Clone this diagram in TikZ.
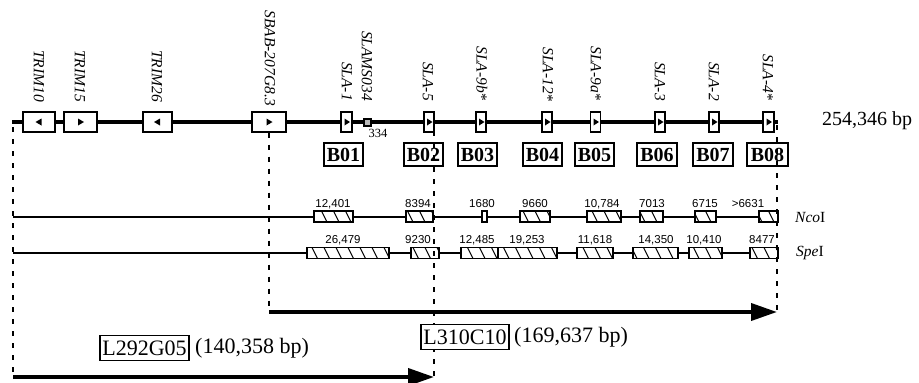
\documentclass[tikz,border=0pt]{standalone}
\usepackage{fontspec}
\setmainfont{Liberation Serif}
\newfontfamily\numfont{Liberation Sans}
\usetikzlibrary{arrows.meta}
\begin{document}
\begin{tikzpicture}[x=1pt,y=-1pt,
  mainline/.style={line width=3.8pt},
  rline/.style={line width=1.6pt},
  genebox/.style={draw, fill=white, line width=1.2pt, minimum width=#1, minimum height=20pt, inner sep=0pt},
  genelbl/.style={font=\fontsize{15.5}{15.5}\selectfont\itshape, rotate=-90, anchor=east, inner sep=0pt},
  bbox/.style={draw, line width=1.7pt, minimum width=#1, minimum height=23pt, inner sep=0pt, font=\fontsize{20}{20}\selectfont\bfseries},
  lbox/.style={draw, fill=white, line width=1.5pt, minimum width=#1, minimum height=25pt, inner sep=0pt, font=\fontsize{22}{22}\selectfont},
  btxt/.style={font=\fontsize{22}{22}\selectfont, inner sep=0pt, anchor=west},
  hatchbox/.style={draw, fill=white, line width=1.2pt, minimum width=#1, minimum height=11pt, inner sep=0pt,
    path picture={\foreach \k in {-132,-120,...,132} \draw[line width=1pt] ([xshift=\k pt]path picture bounding box.north) -- ++(6,12);}},
  plainbox/.style={draw, fill=white, line width=1.2pt, minimum width=#1, minimum height=11pt, inner sep=0pt},
  num/.style={font=\numfont\fontsize{11.5}{11.5}\selectfont, inner sep=0pt},
  enzyme/.style={font=\fontsize{15.5}{15.5}\selectfont, inner sep=0pt, anchor=west},
  dline/.style={line width=1.8pt, dash pattern=on 5pt off 7pt},
  bigarrow/.style={line width=3.8pt, -{Triangle[length=26pt,width=17pt]}},
  tri/.style={fill=black}
]
\useasboundingbox (0,0) rectangle (919,383);

% main line
\coordinate (ms) at (12,122);
\coordinate (me) at (778,122);
\draw[mainline] (ms) -- (me);

% gene boxes
\node[genebox=32] (trim10) at (39,122) {};
\node[genebox=33] (trim15) at (80.5,122) {};
\node[genebox=29] (trim26) at (157.5,122) {};
\node[genebox=34] (sbab) at (269,122) {};
\node[genebox=11] (sla1) at (346.5,122) {};
\node[draw, fill=gray!55, line width=1.1pt, minimum size=7pt, inner sep=0pt] (slams) at (367.5,122.5) {};
\node[genebox=10] (sla5) at (429,122) {};
\node[genebox=10] (sla9b) at (481,122) {};
\node[genebox=10] (sla12) at (547,122) {};
\node[genebox=10] (sla9a) at (595.5,122) {};
\node[genebox=10] (sla3) at (660,122) {};
\node[genebox=10] (sla2) at (714,122) {};
\node[genebox=11] (sla4) at (768.5,122) {};

% direction triangles
\foreach \g in {trim15,sbab}
  \fill[tri, shift={(\g.center)}] (-2.5,-3.5) -- (3.5,0) -- (-2.5,3.5) -- cycle;
\foreach \g in {trim10,trim26}
  \fill[tri, shift={(\g.center)}] (2.5,-3.5) -- (-3.5,0) -- (2.5,3.5) -- cycle;
\foreach \g in {sla1,sla5,sla9b,sla12,sla9a,sla3,sla2,sla4}
  \fill[tri, shift={(\g.center)}] (-2,-3.5) -- (3.5,0) -- (-2,3.5) -- cycle;

% gene labels
\node[genelbl] (ltrim10) at (39,102) {TRIM10};
\node[genelbl] (ltrim15) at (80,102) {TRIM15};
\node[genelbl] (ltrim26) at (157,102) {TRIM26};
\node[genelbl] (lsbab) at (270,106) {SBAB-207G8.3};
\node[genelbl] (lsla1) at (347,101) {SLA-1};
\node[genelbl] (lslams) at (367,101) {SLAMS034};
\node[genelbl] (lsla5) at (428,101) {SLA-5};
\node[genelbl] (lsla9b) at (482,101) {SLA-9b\upshape*};
\node[genelbl] (lsla12) at (548,102) {SLA-12\upshape*};
\node[genelbl] (lsla9a) at (596,101) {SLA-9a\upshape*};
\node[genelbl] (lsla3) at (660,101) {SLA-3};
\node[genelbl] (lsla2) at (714,101) {SLA-2};
\node[genelbl] (lsla4) at (768,101) {SLA-4\upshape*};

\node[font=\fontsize{12.5}{12.5}\selectfont, inner sep=0pt] (n334) at (378,133) {334};
\node[font=\fontsize{20}{20}\selectfont, inner sep=0pt, anchor=west] (total) at (822,121) {254,346 bp};

% B boxes
\node[bbox=39] (b01) at (343.5,154.5) {B01};
\node[bbox=39] (b02) at (423.5,154.5) {B02};
\node[bbox=39] (b03) at (477.5,154.5) {B03};
\node[bbox=39] (b04) at (542.5,154.5) {B04};
\node[bbox=39] (b05) at (594.5,154.5) {B05};
\node[bbox=40] (b06) at (657,154.5) {B06};
\node[bbox=40] (b07) at (713,154.5) {B07};
\node[bbox=41] (b08) at (767.5,154.5) {B08};

% NcoI map
\coordinate (ncs) at (13,217);
\coordinate (nce) at (778,217);
\draw[rline] (ncs) -- (nce);
\node[hatchbox=39] (nc1) at (333.5,216.5) {};
\node[hatchbox=27] (nc2) at (419.5,216.5) {};
\node[plainbox=5] (nc3) at (484.5,216.5) {};
\node[hatchbox=30] (nc4) at (535,216.5) {};
\node[hatchbox=34] (nc5) at (604,216.5) {};
\node[hatchbox=23] (nc6) at (651.5,216.5) {};
\node[hatchbox=21] (nc7) at (705.5,216.5) {};
\node[hatchbox=19] (nc8) at (768.5,216.5) {};
\node[num] (lnc1) at (333,204) {12,401};
\node[num] (lnc2) at (418,204) {8394};
\node[num] (lnc3) at (482,204) {1680};
\node[num] (lnc4) at (535,204) {9660};
\node[num] (lnc5) at (602,204) {10,784};
\node[num] (lnc6) at (652,204) {7013};
\node[num] (lnc7) at (705,204) {6715};
\node[num] (lnc8) at (748,204) {>6631};
\node[enzyme] (nco) at (795,217) {\itshape Nco\upshape I};

% SpeI map
\coordinate (sps) at (13,253);
\coordinate (spe) at (778,253);
\draw[rline] (sps) -- (spe);
\node[hatchbox=82] (sp1) at (348,253) {};
\node[hatchbox=28] (sp2) at (425,253) {};
\node[hatchbox=37] (sp3) at (479.5,253) {};
\node[hatchbox=59] (sp4) at (527.5,253) {};
\node[hatchbox=36] (sp5) at (595,253) {};
\node[hatchbox=45] (sp6) at (655.5,253) {};
\node[hatchbox=33] (sp7) at (705.5,253) {};
\node[hatchbox=28] (sp8) at (764,253) {};
\node[num] (lsp1) at (343,240) {26,479};
\node[num] (lsp2) at (418,240) {9230};
\node[num] (lsp3) at (477,240) {12,485};
\node[num] (lsp4) at (527,240) {19,253};
\node[num] (lsp5) at (595,240) {11,618};
\node[num] (lsp6) at (656,240) {14,350};
\node[num] (lsp7) at (704,240) {10,410};
\node[num] (lsp8) at (762,240) {8477};
\node[enzyme] (spe1) at (796,253) {\itshape Spe\upshape I};

% BAC arrows
\coordinate (a1s) at (269,312);
\coordinate (a1e) at (777,312);
\coordinate (a2s) at (13,377);
\coordinate (a2e) at (434,377);

% dashed boundaries
\coordinate (d1t) at (13,127);
\coordinate (d3t) at (434,131);
\coordinate (d4t) at (777,125);
\draw[dline] (d1t) -- (a2s);
\draw[dline] (sbab.south) -- (a1s);
\draw[dline] (d3t) -- (a2e);
\draw[dline] (d4t) -- (a1e);

\draw[bigarrow] (a1s) -- (a1e);
\draw[bigarrow] (a2s) -- (a2e);

% BAC labels
\node[lbox=89] (l292) at (144.5,348) {L292G05};
\node[btxt] (l292t) at (195,348) {(140,358 bp)};
\node[lbox=88] (l310) at (465,337) {L310C10};
\node[btxt] (l310t) at (514,337) {(169,637 bp)};
\end{tikzpicture}
\end{document}
